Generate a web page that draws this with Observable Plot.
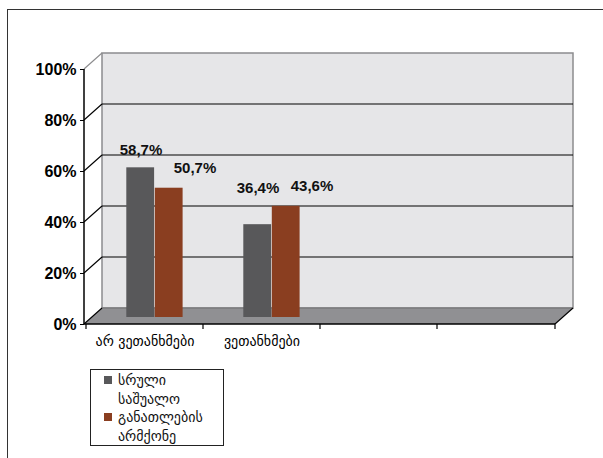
<!DOCTYPE html>
<html>
<head>
<meta charset="utf-8">
<script src="https://cdn.jsdelivr.net/npm/d3@7"></script>
<script src="https://cdn.jsdelivr.net/npm/@observablehq/plot@0.6"></script>
<style>
  html, body { margin: 0; padding: 0; background: #fff; width: 603px; height: 458px; overflow: hidden; }
  #frame { position: absolute; left: 7px; top: 9px; width: 700px; height: 600px;
           border-top: 1.5px solid #333; border-left: 1.5px solid #333; }
  #chart { position: absolute; left: 0; top: 0; }
  #legend { position: absolute; left: 90px; top: 369px; width: 134px; height: 77px; box-sizing: border-box;
            border: 1px solid #222; padding: 1px 0 0 13px; font: 14px "DejaVu Sans", sans-serif; color: #111; }
  .item { display: flex; align-items: flex-start; }
  .sw { width: 8px; height: 8px; margin: 5px 6px 0 0; flex: none; }
  .txt { width: 105px; line-height: 18.5px; }
</style>
</head>
<body>
<div id="frame"></div>
<div id="chart"></div>
<div id="legend"></div>
<script>
// ---- data ----
const categories = ["არ ვეთანხმები", "ვეთანხმები"];
const emptySlots = ["slot3", "slot4"];
const seriesNames = ["სრული საშუალო", "განათლების არმქონე"];
const fullSecondary = [58.7, 36.4];
const noEducation = [50.7, 43.6];
const yTicks = [0, 20, 40, 60, 80, 100];
const seriesColors = ["#58585a", "#8a3e20"];

// ---- style constants ----
const DX = 18, DY = 16;
const wallFill = "#e6e6e8", wallEdge = "#8c8c8e", floorFill = "#909093";
const numFont = "'Liberation Sans', Arial, sans-serif";

const slots = [...categories, ...emptySlots];
const rowsA = categories.map((c, i) => ({category: c, series: seriesNames[0], value: fullSecondary[i],
  labelValue: Math.max(fullSecondary[i], noEducation[i])}));
const rowsB = categories.map((c, i) => ({category: c, series: seriesNames[1], value: noEducation[i],
  labelValue: noEducation[i]}));
const fmt = v => v.toFixed(1).replace(".", ",") + "%";

function box3d(index, scales, values, dim) {
  const y = scales.y, x = scales.x;
  const x0 = dim.marginLeft, x1 = dim.width - dim.marginRight;
  const yb = y(0), yt = y(100);
  const g = d3.create("svg:g");
  g.append("rect").attr("x", x0 + DX).attr("y", yt - DY).attr("width", x1 - x0).attr("height", yb - yt)
    .attr("fill", wallFill).attr("stroke", wallEdge).attr("stroke-width", 1.5);
  g.append("path").attr("d", `M${x0},${yb}L${x1},${yb}L${x1 + DX},${yb - DY}L${x0 + DX},${yb - DY}Z`)
    .attr("fill", floorFill);
  g.append("line").attr("x1", x0 + DX).attr("x2", x1 + DX).attr("y1", yb - DY).attr("y2", yb - DY)
    .attr("stroke", "#6e6e70").attr("stroke-width", 1.2);
  for (const v of yTicks) {
    if (v > 0 && v < 100) {
      g.append("line").attr("x1", x0 + DX).attr("x2", x1 + DX).attr("y1", y(v) - DY).attr("y2", y(v) - DY)
        .attr("stroke", "#000").attr("stroke-width", 1);
    }
    g.append("line").attr("x1", x0).attr("y1", y(v)).attr("x2", x0 + DX).attr("y2", y(v) - DY)
      .attr("stroke", v === 100 ? wallEdge : "#000").attr("stroke-width", 1.2);
  }
  g.append("line").attr("x1", x0).attr("x2", x0).attr("y1", yt).attr("y2", yb).attr("stroke", "#000").attr("stroke-width", 1.5);
  g.append("line").attr("x1", x0).attr("x2", x1).attr("y1", yb).attr("y2", yb).attr("stroke", "#000").attr("stroke-width", 1.5);
  g.append("line").attr("x1", x1).attr("y1", yb).attr("x2", x1 + DX).attr("y2", yb - DY).attr("stroke", "#000").attr("stroke-width", 1.2);
  const bounds = [...slots.map(s => x(s)), x1];
  for (const bx of bounds) {
    g.append("line").attr("x1", bx).attr("x2", bx).attr("y1", yb).attr("y2", yb + 5).attr("stroke", "#000").attr("stroke-width", 1.2);
  }
  return g.node();
}

const inset = 44.6;
const plot = Plot.plot({
  width: 603, height: 360,
  marginTop: 69, marginBottom: 36, marginLeft: 84, marginRight: 48,
  style: {background: "transparent", overflow: "visible"},
  x: {type: "band", domain: slots, padding: 0},
  y: {domain: [0, 100]},
  color: {domain: seriesNames, range: seriesColors},
  marks: [
    box3d,
    Plot.barY(rowsA, {x: "category", y: "value", fill: "series", insetLeft: inset, insetRight: inset, dx: -4.3, dy: -7}),
    Plot.barY(rowsB, {x: "category", y: "value", fill: "series", insetLeft: inset, insetRight: inset, dx: 24.2, dy: -7}),
    Plot.text(rowsA, {x: "category", y: "labelValue", text: d => fmt(d.value), dx: -4, dy: -25,
      fontSize: 15, fontWeight: "bold", fontFamily: numFont, fill: "#111"}),
    Plot.text(rowsB, {x: "category", y: "labelValue", text: d => fmt(d.value), dx: 50, dy: -27,
      fontSize: 15, fontWeight: "bold", fontFamily: numFont, fill: "#111"}),
    Plot.axisY({ticks: yTicks, tickFormat: d => d + "%", tickSize: 4, tickPadding: 4, label: null,
      fontSize: 16, fontWeight: "bold", fontFamily: numFont, color: "#000"}),
    Plot.axisX({tickSize: 0, tickPadding: 12, label: null, fontSize: 14, fontFamily: "'DejaVu Sans', sans-serif",
      tickFormat: d => categories.includes(d) ? d : ""})
  ]
});
document.getElementById("chart").appendChild(plot);

const legend = d3.select("#legend");
seriesNames.forEach((name, i) => {
  const it = legend.append("div").attr("class", "item");
  it.append("div").attr("class", "sw").style("background", seriesColors[i]);
  it.append("div").attr("class", "txt").text(name);
});
</script>
</body>
</html>
